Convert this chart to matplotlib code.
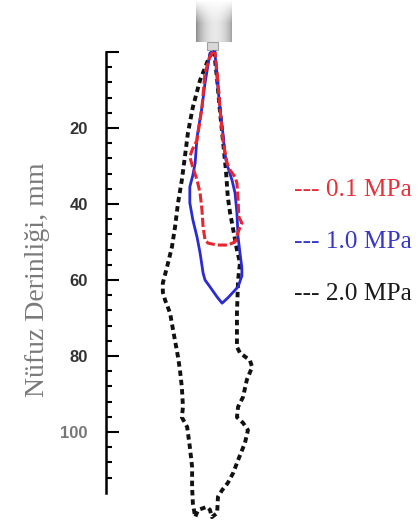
import matplotlib.pyplot as plt
import numpy as np

# contour outlines, mm (x from nozzle axis, y = penetration depth)
red_x = [0.0, -0.8, -2.1, -2.9, -4.2, -5.5, -6.1, -5.5, -4.2, -3.4, -2.9, -2.6, -2.1, -1.3,
         1.1, 3.9, 5.8, 6.6, 7.6, 6.8, 6.6, 6.3, 5.8, 4.5, 3.7, 2.6, 1.8, 1.1, 0.5]
red_y = [0.0, 1.1, 5.5, 14.5, 23.2, 25.8, 27.6, 29.7, 33.7, 37.1, 41.6, 46.1, 49.5, 50.3,
         50.8, 50.8, 50.0, 47.4, 45.0, 43.4, 38.9, 34.5, 32.9, 31.1, 29.2, 23.2, 14.5, 5.5, 0.0]

blue_x = [0.0, -0.8, -2.1, -2.9, -4.2, -4.7, -5.3, -6.1, -6.1, -5.3, -4.2, -3.4, -2.6, -2.1,
          -0.8, 1.1, 2.4, 3.9, 5.3, 6.6, 7.6, 7.6, 7.1, 6.6, 6.3, 5.8, 5.0, 3.9, 3.2, 2.6,
          1.8, 1.1, 0.5]
blue_y = [0.0, 0.3, 8.2, 14.5, 22.4, 29.2, 32.4, 35.5, 39.7, 44.2, 48.7, 52.9, 58.2, 60.0,
          61.8, 64.5, 66.1, 64.7, 63.2, 61.8, 58.9, 56.8, 52.9, 48.7, 42.4, 37.1, 33.7, 30.3,
          27.6, 21.3, 14.5, 7.4, 0.0]

black_x = [-0.3, -1.3, -3.4, -5.3, -6.6, -7.4, -8.2, -9.2, -10.0, -10.8, -12.1, -13.2, -13.2,
           -12.6, -11.3, -10.5, -9.2, -8.7, -8.2, -7.9, -8.2, -6.8, -6.1, -5.5, -5.5, -5.3,
           -4.7, -3.9, -1.6, -0.8, -0.3, 1.1, 1.3, 2.4, 3.9, 5.3, 6.6, 8.4, 9.2, 7.9, 6.3,
           6.6, 7.9, 8.9, 10.3, 9.7, 7.1, 6.3, 6.3, 6.6, 7.1, 6.3, 5.0, 4.5, 3.9, 3.4, 2.6,
           1.8, 1.1, 0.3]
black_y = [0.0, 2.1, 7.4, 14.5, 21.3, 27.6, 33.7, 39.7, 46.1, 51.3, 56.6, 60.8, 63.2,
           65.3, 68.7, 73.2, 80.3, 83.7, 88.2, 93.4, 96.1, 98.7, 103.9, 109.2, 114.5, 118.7,
           122.4, 120.5, 119.7, 120.5, 122.4, 121.3, 117.1, 115.3, 113.4, 110.8, 107.4, 102.9,
           99.5, 97.6, 96.1, 93.4, 90.8, 86.3, 82.9, 81.1, 79.2, 77.6, 68.7, 60.0, 55.5,
           52.1, 45.0, 42.4, 38.2, 31.1, 23.2, 15.3, 7.4, 0.0]

labels = ['--- 0.1 MPa', '--- 1.0 MPa', '--- 2.0 MPa']
label_y = [36.3, 50.0, 63.7]
colors = ['#e8262e', '#2b2bd6', '#111111']
text_colors = ['#e8303a', '#3838c8', '#1a1a1a']

major_ticks = [0, 20, 40, 60, 80, 100]
major_labels = ['', '20', '40', '60', '80', '100']
minor_ticks = np.arange(4, 116, 4)

W, H = 418, 526
px = 3.8            # pixels per mm in the picture
x0, y0 = 213, 52    # nozzle exit in pixels

fig = plt.figure(figsize=(W / 100, H / 100), dpi=100)
ax = fig.add_axes([106 / W, 0, (W - 106) / W, 1])
ax.set_xlim((106 - x0) / px, (W - x0) / px)
ax.set_ylim((H - y0) / px, -y0 / px)
ax.patch.set_alpha(0)

# nozzle
nw, nh = 40, 40
t = np.linspace(0, 1, nw)
shade = 0.55 + 0.32 * np.sin(np.pi * t) ** 0.7
shade = shade + 0.08 * t
fade = np.clip(np.linspace(0, 1, nh) / 0.55, 0, 1)[:, None]
g = 1 - (1 - shade[None, :]) * fade
img = np.dstack([g, g, g])
ax.imshow(img, extent=((196 - x0) / px, (232 - x0) / px, (42 - y0) / px, (0 - y0) / px),
          aspect='auto', interpolation='bilinear', zorder=2)
ax.add_patch(plt.Rectangle(((207 - x0) / px, (42 - y0) / px), 11 / px, 8 / px,
                           facecolor='#d8d8d8', edgecolor='#a0a0a0', lw=0.8, zorder=2))

ax.plot(black_x, black_y, color=colors[2], lw=2.8, linestyle=(0, (1.4, 1.0)), zorder=3)
ax.plot(blue_x, blue_y, color=colors[1], lw=2.0, zorder=4)
ax.plot(red_x, red_y, color=colors[0], lw=2.2, linestyle=(0, (3, 1)), zorder=5)

for lab, ly, c in zip(labels, label_y, text_colors):
    ax.text((294 - x0) / px, ly, lab, color=c, fontsize=18.3, family='Liberation Serif',
            ha='left', va='center', clip_on=False)

for s in ['top', 'right', 'bottom']:
    ax.spines[s].set_visible(False)
ax.spines['left'].set_bounds(0, 116)
ax.spines['left'].set_linewidth(1.8)
ax.set_xticks([])
ax.set_yticks(major_ticks)
ax.set_yticklabels(major_labels)
ax.set_yticks(minor_ticks, minor=True)
ax.tick_params(axis='y', which='major', direction='in', length=9.5, width=1.5, pad=13,
               labelsize=12, labelcolor='#333333')
ax.tick_params(axis='y', which='minor', direction='in', length=4.5, width=1.5)
for tl in ax.get_yticklabels():
    tl.set_fontweight('bold')
    tl.set_family('Liberation Sans')
ax.get_yticklabels()[-1].set_color('#777777')

fig.text(38 / W, 1 - 280 / H, 'Nüfuz Derinliği, mm', rotation=90, fontsize=20,
         family='Liberation Serif', color='#7a7a7a', ha='center', va='center')

fig.savefig('out.png', dpi=100, facecolor='white')
